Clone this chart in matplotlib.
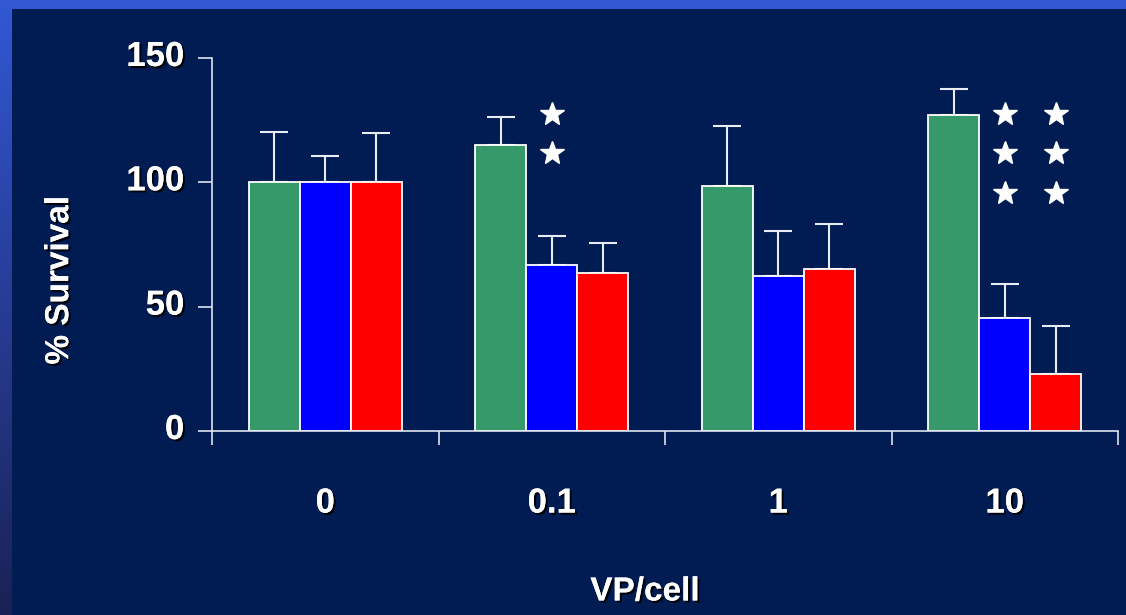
import matplotlib
matplotlib.use("Agg")
import matplotlib.pyplot as plt
import matplotlib.patheffects as pe
import matplotlib.transforms as mtrans
import numpy as np
from matplotlib.colors import LinearSegmentedColormap

categories = ["0", "0.1", "1", "10"]
green_vals = [100, 115, 98.5, 127]
blue_vals = [100, 66.7, 62.3, 45.4]
red_vals = [100, 63.5, 65.1, 22.9]
green_err = [20.2, 11.3, 24.1, 10.5]
blue_err = [10.6, 11.7, 18.1, 13.7]
red_err = [19.8, 12.1, 18.1, 19.3]
# significance stars: (category index, series index, y value)
star_cat = [1, 1, 3, 3, 3, 3, 3, 3]
star_series = [1, 1, 1, 1, 1, 2, 2, 2]
star_y = [127.5, 111.8, 127.5, 111.8, 95.7, 127.5, 111.8, 95.7]
y_ticks = [0, 50, 100, 150]

BG = "#011c53"
FONT = ["Liberation Sans", "DejaVu Sans"]
shadow = [pe.withSimplePatchShadow(offset=(1.5, -1.5), shadow_rgbFace="black", alpha=0.9), pe.Normal()]

fig = plt.figure(figsize=(11.26, 6.15), dpi=100)
fig.patch.set_facecolor(BG)
# decorative border bands
top = fig.add_axes([0, 1 - 9 / 615, 1, 9 / 615])
top.set_facecolor("#3157d3"); top.set_xticks([]); top.set_yticks([])
for s in top.spines.values(): s.set_visible(False)
left = fig.add_axes([0, 0, 12 / 1126, 1 - 9 / 615])
grad = np.linspace(0, 1, 256).reshape(-1, 1)
cm = LinearSegmentedColormap.from_list("g", ["#1b2155", "#3157d3"])
left.imshow(grad, aspect="auto", cmap=cm, origin="lower", extent=[0, 1, 0, 1])
left.set_axis_off()

ax = fig.add_axes([212 / 1126, 1 - 431 / 615, 906 / 1126, 373 / 615])
ax.set_facecolor(BG)
x = np.arange(len(categories))
w = 0.225
offs = [-w, 0, w]
series = [(green_vals, green_err, "#35996a"), (blue_vals, blue_err, "#0000ff"), (red_vals, red_err, "#ff0000")]
for (vals, errs, col), o in zip(series, offs):
    ax.bar(x + o, vals, width=w, color=col, edgecolor="white", linewidth=1.3, zorder=2)
    ax.errorbar(x + o, vals, yerr=[np.zeros(len(errs)), errs], fmt="none", ecolor="#e8ecf4",
                elinewidth=1.5, capsize=10, capthick=1.5, zorder=1)

sx = [star_cat[i] + offs[star_series[i]] for i in range(len(star_cat))]
ax.plot(sx, star_y, linestyle="none", marker="*", markersize=18, color="white", zorder=3)

ax.set_xlim(-0.5, 3.5)
ax.set_ylim(0, 150)
for s in ["top", "right"]:
    ax.spines[s].set_visible(False)
for s in ["left", "bottom"]:
    ax.spines[s].set_color("#dfe4ef")
    ax.spines[s].set_linewidth(1.2)
ax.set_yticks(y_ticks)
ax.set_yticklabels([str(t) for t in y_ticks])
ax.set_xticks(x)
ax.set_xticklabels(categories)
ax.set_xticks(np.arange(-0.5, 3.6, 1), minor=True)
ax.tick_params(axis="x", which="major", length=0, pad=40, colors="white")
ax.tick_params(axis="x", which="minor", length=10, width=1.2, color="#dfe4ef", direction="out")
ax.tick_params(axis="y", length=10, width=1.2, color="#dfe4ef", pad=10, colors="white")
for lab in ax.get_xticklabels() + ax.get_yticklabels():
    lab.set_fontfamily(FONT); lab.set_fontweight("bold"); lab.set_fontsize(25)
    lab.set_color("white"); lab.set_path_effects(shadow)
up = mtrans.ScaledTranslation(0, 5 / 100, fig.dpi_scale_trans)
for lab in ax.get_yticklabels():
    lab.set_transform(lab.get_transform() + up)
for t in ax.yaxis.get_ticklines():
    t.set_markeredgecolor("#dfe4ef")

ax.set_ylabel("% Survival", fontsize=24, fontweight="bold", color="white", family=FONT, path_effects=shadow)
ax.yaxis.set_label_coords(-0.151, 0.405)
ax.set_xlabel("VP/cell", fontsize=24, fontweight="bold", color="white", family=FONT, path_effects=shadow)
ax.xaxis.set_label_coords(0.478, -0.39)

fig.savefig("out.png", dpi=100, facecolor=BG)
